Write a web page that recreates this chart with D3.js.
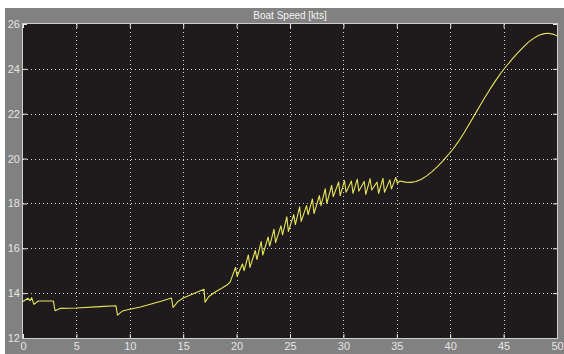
<!DOCTYPE html>
<html>
<head>
<meta charset="utf-8">
<script src="https://cdn.jsdelivr.net/npm/d3@7"></script>
<style>
  html, body { margin: 0; padding: 0; background: #ffffff; }
  svg { display: block; }
  text { font-family: "Liberation Sans", Arial, sans-serif; }
</style>
</head>
<body>
<script>
// Boat speed trace (time in s, speed in kts)
const time = [
  0, 0.1, 0.47, 0.66, 0.81, 1.03, 1.43, 2.84, 3.0, 3.46, 5.0, 7.2, 8.7, 8.85,
  9.3, 10, 11, 12, 13, 13.9, 14.05, 14.5, 15, 16, 16.95, 17.05, 17.4, 18, 18.6, 19.2, 19.4,
  19.9, 20.05, 20.55, 20.7, 21.1, 21.25, 21.75, 21.9, 22.3, 22.45, 22.95, 23.1,
  23.5, 23.65, 24.15, 24.3, 24.7, 24.85, 25.35, 25.5, 25.9, 26.05, 26.55, 26.7,
  27.1, 27.25, 27.75, 27.9, 28.3, 28.45, 28.9, 29.05, 29.55, 29.7, 30.1, 30.25,
  30.75, 30.9, 31.3, 31.45, 31.95, 32.1, 32.5, 32.65, 33.15, 33.3, 33.7, 33.85,
  34.35, 34.5, 34.9, 35.05, 35.3,
  35.8, 36.3, 36.8, 37.3, 37.8, 38.3, 38.8, 39.3, 39.8, 40.3, 40.8, 41.3, 41.8,
  42.3, 42.8, 43.3, 43.8, 44.3, 44.8, 45.3, 45.8, 46.3, 46.8, 47.3, 47.8, 48.3,
  48.8, 49.2, 49.6, 50
];
const speed = [
  13.62, 13.66, 13.77, 13.66, 13.8, 13.5, 13.65, 13.65, 13.22, 13.32, 13.34, 13.4, 13.44, 13.02,
  13.2, 13.28, 13.38, 13.52, 13.65, 13.78, 13.36, 13.62, 13.78, 13.98, 14.17, 13.6, 13.85, 14.05, 14.22, 14.4, 14.5,
  15.15, 14.75, 15.3, 15.0, 15.7, 15.15, 15.9, 15.5, 16.3, 15.7, 16.5, 16.1,
  16.85, 16.25, 17.0, 16.6, 17.4, 16.75, 17.5, 17.05, 17.85, 17.2, 17.9, 17.5,
  18.2, 17.55, 18.35, 17.9, 18.65, 18.0, 18.8, 18.3, 18.95, 18.35, 19.02, 18.5,
  19.0, 18.45, 19.08, 18.55, 18.98, 18.4, 19.1, 18.6, 18.95, 18.45, 19.12, 18.5,
  19.05, 18.65, 19.15, 18.9, 19.0,
  18.95, 18.94, 18.98, 19.08, 19.23, 19.42, 19.64, 19.89, 20.16, 20.45, 20.78, 21.15, 21.55,
  21.96, 22.37, 22.77, 23.15, 23.51, 23.85, 24.15, 24.43, 24.7, 24.95, 25.18, 25.36, 25.5,
  25.57, 25.59, 25.55, 25.48
];
const xTicks = [0, 5, 10, 15, 20, 25, 30, 35, 40, 45, 50];
const yTicks = [12, 14, 16, 18, 20, 22, 24, 26];
const title = "Boat Speed [kts]";

const W = 564, H = 354;
const plot = { left: 23, top: 24, right: 557, bottom: 338 };

const svg = d3.select("body").append("svg").attr("width", W).attr("height", H);

// grey scope frame
svg.append("rect").attr("x", 5).attr("y", 8).attr("width", W - 5).attr("height", H - 8)
  .attr("fill", "#818181");

const x = d3.scaleLinear().domain([0, 50]).range([plot.left, plot.right]);
const y = d3.scaleLinear().domain([12, 26]).range([plot.bottom, plot.top]);

// plot area
svg.append("rect")
  .attr("x", plot.left).attr("y", plot.top)
  .attr("width", plot.right - plot.left).attr("height", plot.bottom - plot.top)
  .attr("fill", "#1f1b1c");

// dotted grid
const grid = svg.append("g").attr("stroke", "#d8d8d8").attr("stroke-width", 1)
  .attr("stroke-dasharray", "1,3");
grid.selectAll("line.gx").data(xTicks.slice(1, -1)).join("line")
  .attr("x1", d => Math.round(x(d)) + 0.5).attr("x2", d => Math.round(x(d)) + 0.5)
  .attr("y1", plot.top).attr("y2", plot.bottom);
grid.selectAll("line.gy").data(yTicks.slice(1, -1)).join("line")
  .attr("y1", d => Math.round(y(d)) + 0.5).attr("y2", d => Math.round(y(d)) + 0.5)
  .attr("x1", plot.left).attr("x2", plot.right);

// axes: ticks point inward, labels outside
function styleAxis(g, showLabels) {
  g.select(".domain").remove();
  g.selectAll(".tick line").attr("stroke", "#e8e8e8");
  g.selectAll(".tick text").attr("fill", "#e4e4e4").attr("font-size", 11)
    .style("display", showLabels ? null : "none");
}
svg.append("g").attr("transform", `translate(0,${plot.bottom})`)
  .call(d3.axisBottom(x).tickValues(xTicks).tickFormat(d3.format("d")).tickSize(-4).tickPadding(4))
  .call(g => styleAxis(g, true));
svg.append("g").attr("transform", `translate(0,${plot.top})`)
  .call(d3.axisTop(x).tickValues(xTicks).tickSize(-4))
  .call(g => styleAxis(g, false));
svg.append("g").attr("transform", `translate(${plot.left},0)`)
  .call(d3.axisLeft(y).tickValues(yTicks).tickFormat(d3.format("d")).tickSize(-4).tickPadding(3))
  .call(g => styleAxis(g, true));
svg.append("g").attr("transform", `translate(${plot.right},0)`)
  .call(d3.axisRight(y).tickValues(yTicks).tickSize(-4))
  .call(g => styleAxis(g, false));

// plot border
svg.append("rect")
  .attr("x", plot.left - 0.5).attr("y", plot.top - 0.5)
  .attr("width", plot.right - plot.left + 1).attr("height", plot.bottom - plot.top + 1)
  .attr("fill", "none").attr("stroke", "#cfcfcf").attr("stroke-width", 1);

// speed trace
const pts = time.map((t, i) => [t, speed[i]]);
svg.append("path")
  .datum(pts)
  .attr("fill", "none")
  .attr("stroke", "#e6e65a")
  .attr("stroke-width", 1.1)
  .attr("stroke-linejoin", "round")
  .attr("d", d3.line().x(d => x(d[0])).y(d => y(d[1])));

// title
svg.append("text")
  .attr("x", (plot.left + plot.right) / 2).attr("y", 19)
  .attr("text-anchor", "middle").attr("font-size", 10).attr("fill", "#f4f4f4")
  .text(title);
</script>
</body>
</html>
